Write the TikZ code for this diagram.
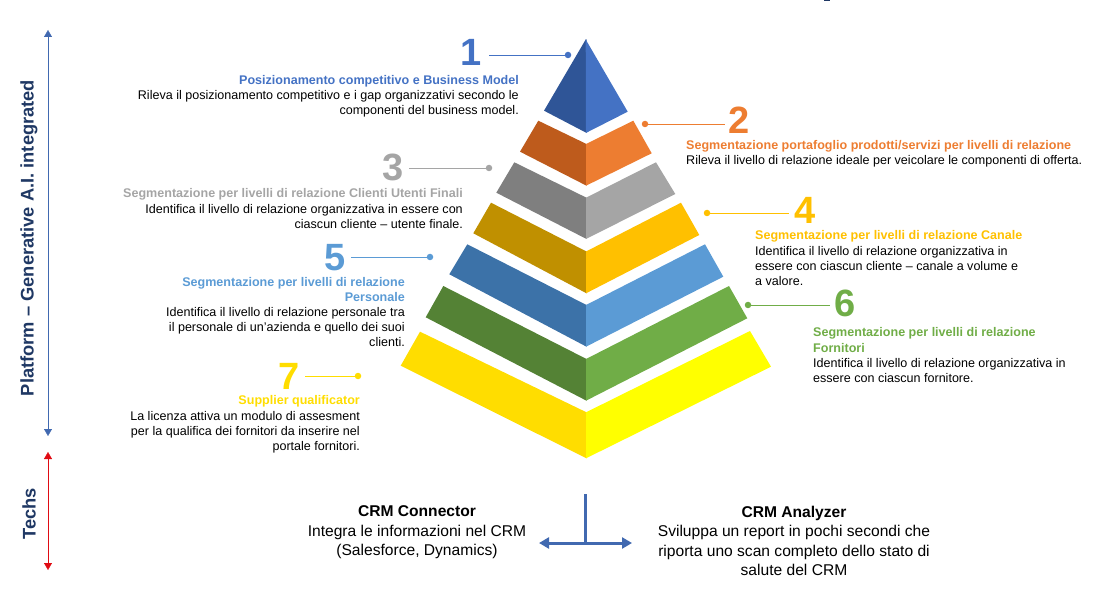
\documentclass[tikz,border=0pt]{standalone}
\usepackage{fontspec}
\setmainfont{Liberation Sans}
\usepackage{xcolor}
\usetikzlibrary{arrows.meta,positioning,calc}

\definecolor{blueA}{HTML}{4472C4}
\definecolor{blueAdark}{HTML}{2F5597}
\definecolor{orangeB}{HTML}{ED7D31}
\definecolor{orangeBdark}{HTML}{BE5B1C}
\definecolor{grayC}{HTML}{A5A5A5}
\definecolor{grayCdark}{HTML}{7F7F7F}
\definecolor{goldD}{HTML}{FFC000}
\definecolor{goldDdark}{HTML}{C09000}
\definecolor{blueE}{HTML}{5B9BD5}
\definecolor{blueEdark}{HTML}{3C72A8}
\definecolor{greenF}{HTML}{70AD47}
\definecolor{greenFdark}{HTML}{548235}
\definecolor{yellowG}{HTML}{FFFF00}
\definecolor{yellowGdark}{HTML}{FFDD00}
\definecolor{navyside}{HTML}{1F3864}
\definecolor{arrowblue}{HTML}{4169B0}
\definecolor{techred}{HTML}{E00B13}

\tikzset{
  numlabel/.style={font=\fontsize{38}{38}\selectfont\bfseries, inner sep=0pt},
  leaderdot/.style={circle, fill=#1, inner sep=0pt, minimum size=6.5pt},
  leaderline/.style={draw=#1, line width=0.9pt},
  leftblock/.style={anchor=north east, align=right, inner sep=0pt, font=\fontsize{12.55}{15.4}\selectfont},
  rightblock/.style={anchor=north west, align=left, inner sep=0pt, font=\fontsize{12.55}{15.4}\selectfont},
  tightlines/.style={font=\fontsize{12.55}{15}\selectfont},
  crmblock/.style={anchor=north, align=center, inner sep=0pt, font=\fontsize{15.6}{19.5}\selectfont},
  sidelabel/.style={rotate=90, text=navyside, inner sep=0pt, font=\fontsize{18.3}{18.3}\selectfont\bfseries}
}

\begin{document}
\begin{tikzpicture}[x=1pt,y=-1pt]
    \useasboundingbox (0,0) rectangle (1110,609);

    % Pyramid, one pair of faces per level
    \fill[blueAdark] (585.7,39.5) -- (544,110.7) -- (586.5,132.9) -- (586.5,39.5) -- cycle;
    \fill[blueA] (585.7,39.5) -- (627.7,111.7) -- (586,132.9) -- cycle;
    \fill[orangeBdark] (538.3,120.7) -- (520,151.7) -- (586.5,185.7) -- (586.5,144) -- cycle;
    \fill[orangeB] (633.3,120.7) -- (651.7,153.3) -- (586,185.7) -- (586,144) -- cycle;
    \fill[grayCdark] (514.3,162.3) -- (496.3,192.7) -- (586.5,239) -- (586.5,197.7) -- cycle;
    \fill[grayC] (656,162.3) -- (675.3,194) -- (586,239) -- (586,197.7) -- cycle;
    \fill[goldDdark] (491,202.7) -- (473.3,233.3) -- (586.5,293.3) -- (586.5,251.5) -- cycle;
    \fill[goldD] (681,202.7) -- (699.3,235) -- (586,293.3) -- (586,251.5) -- cycle;
    \fill[blueEdark] (467.3,244.3) -- (449.3,274.3) -- (586.5,346.7) -- (586.5,305) -- cycle;
    \fill[blueE] (705,244.3) -- (723.3,276.7) -- (586,346.7) -- (586,305) -- cycle;
    \fill[greenFdark] (443.3,286) -- (425.7,317.3) -- (586.5,400.7) -- (586.5,359) -- cycle;
    \fill[greenF] (729,286) -- (747.3,318.3) -- (586,400.7) -- (586,359) -- cycle;
    \fill[yellowGdark] (420,331.7) -- (400.7,365.7) -- (586.5,458.3) -- (586.5,412.3) -- cycle;
    \fill[yellowG] (750,331) -- (771,366.7) -- (586,458.3) -- (586,412.3) -- cycle;

    % Level numbers and their leaders
    \node[numlabel,text=blueA] (num1) at (471,52) {1};
    \node[leaderdot=blueA] (dot1) at (568,55) {};
    \draw[leaderline=blueA] (dot1) -- ($(dot1 -| num1.east)+(7,0)$);

    \node[numlabel,text=orangeB] (num2) at (739,120) {2};
    \node[leaderdot=orangeB] (dot2) at (645,124) {};
    \draw[leaderline=orangeB] (dot2) -- ($(dot2 -| num2.west)+(-3,0)$);

    \node[numlabel,text=grayC] (num3) at (393.5,167) {3};
    \node[leaderdot=grayC] (dot3) at (489,168) {};
    \draw[leaderline=grayC] (dot3) -- ($(dot3 -| num3.east)+(5,0)$);

    \node[numlabel,text=goldD] (num4) at (805,210) {4};
    \node[leaderdot=goldD] (dot4) at (707,213) {};
    \draw[leaderline=goldD] (dot4) -- ($(dot4 -| num4.west)+(-5,0)$);

    \node[numlabel,text=blueE] (num5) at (335.5,258) {5};
    \node[leaderdot=blueE] (dot5) at (430,257) {};
    \draw[leaderline=blueE] (dot5) -- ($(dot5 -| num5.east)+(5,0)$);

    \node[numlabel,text=greenF] (num6) at (845,303) {6};
    \node[leaderdot=greenF] (dot6) at (748,305) {};
    \draw[leaderline=greenF] (dot6) -- ($(dot6 -| num6.west)+(-4,0)$);

    \node[numlabel,text=yellowGdark] (num7) at (289,376) {7};
    \node[leaderdot=yellowGdark] (dot7) at (358,376) {};
    \draw[leaderline=yellowGdark] (dot7) -- ($(dot7 -| num7.east)+(5,0)$);

    % Level descriptions
    \node[leftblock,tightlines] (text1) at (519,75.5) {\textcolor{blueA}{\textbf{Posizionamento competitivo e Business Model}}\\
      Rileva il posizionamento competitivo e i gap organizzativi secondo le\\
      componenti del business model.};
    \node[rightblock,tightlines] (text2) at (686,140.5) {\textcolor{orangeB}{\textbf{Segmentazione portafoglio prodotti/servizi per livelli di relazione}}\\
      Rileva il livello di relazione ideale per veicolare le componenti di offerta.};
    \node[leftblock] (text3) at (463,188.5) {\textcolor{grayC}{\textbf{Segmentazione per livelli di relazione Clienti Utenti Finali}}\\
      Identifica il livello di relazione organizzativa in essere con\\
      ciascun cliente – utente finale.};
    \node[rightblock] (text4) at (755,230.5) {\textcolor{goldD}{\textbf{Segmentazione per livelli di relazione Canale}}\\
      Identifica il livello di relazione organizzativa in\\
      essere con ciascun cliente – canale a volume e\\
      a valore.};
    \node[leftblock,tightlines] (text5) at (405,277.5) {\textcolor{blueE}{\textbf{Segmentazione per livelli di relazione}}\\
      \textcolor{blueE}{\textbf{Personale}}\\
      Identifica il livello di relazione personale tra\\
      il personale di un’azienda e quello dei suoi\\
      clienti.};
    \node[rightblock] (text6) at (813,327.5) {\textcolor{greenF}{\textbf{Segmentazione per livelli di relazione}}\\
      \textcolor{greenF}{\textbf{Fornitori}}\\
      Identifica il livello di relazione organizzativa in\\
      essere con ciascun fornitore.};
    \node[leftblock] (text7) at (360,395.5) {\textcolor{yellowGdark}{\textbf{Supplier qualificator}}\\
      La licenza attiva un modulo di assesment\\
      per la qualifica dei fornitori da inserire nel\\
      portale fornitori.};

    % Left axis
    \coordinate (platformtop) at (48,30);
    \coordinate (platformend) at (48,436);
    \coordinate (techstop) at (48,452);
    \coordinate (techsend) at (48,570);
    \draw[{Triangle[width=8pt,length=7pt]}-{Triangle[width=8pt,length=7pt]},arrowblue] (platformtop) -- (platformend);
    \draw[{Triangle[width=8pt,length=7pt]}-{Triangle[width=8pt,length=7pt]},techred] (techstop) -- (techsend);
    \node[sidelabel] (platformlabel) at (29,238) {Platform – Generative A.I. integrated};
    \node[sidelabel] (techslabel) at (29,514) {Techs};

    % CRM modules
    \node[crmblock] (connector) at (417,505.5) {\textbf{CRM Connector}\\
      Integra le informazioni nel CRM\\
      (Salesforce, Dynamics)};
    \node[crmblock] (analyzer) at (794,505.5) {\textbf{CRM Analyzer}\\
      Sviluppa un report in pochi secondi che\\
      riporta uno scan completo dello stato di\\
      salute del CRM};
    \coordinate (stemtop) at (585,494);
    \coordinate (stemfoot) at (585,543);
    \coordinate (branchleft) at (539,543);
    \coordinate (branchright) at (632,543);
    \draw[arrowblue,line width=3pt] (stemtop) -- (stemfoot);
    \draw[{Triangle[width=11pt,length=10pt]}-{Triangle[width=11pt,length=10pt]},arrowblue,line width=3pt] (branchleft) -- (branchright);

    % Stray mark on the top edge
    \fill[navyside] (824,0) rectangle (830,1.2);
\end{tikzpicture}
\end{document}
